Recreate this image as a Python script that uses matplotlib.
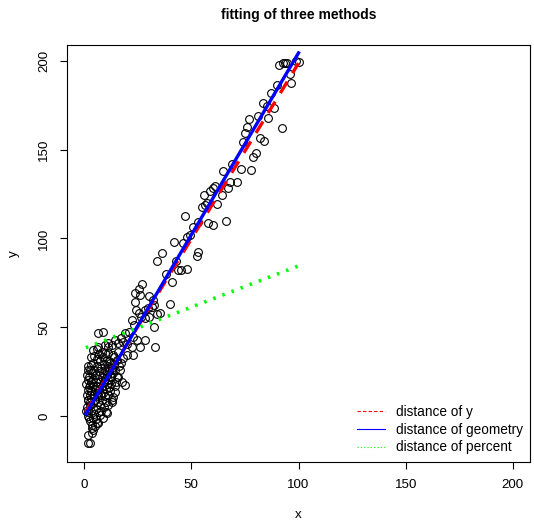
import matplotlib
matplotlib.use('Agg')
import matplotlib.pyplot as plt
from matplotlib.lines import Line2D
import numpy as np

plt.rcParams['font.family'] = ['Liberation Sans', 'DejaVu Sans']

# points, upper (sparse) part
x_upper = [90.7, 92.6, 93.5, 94.4, 100.0, 98.6, 95.8, 96.7, 89.8, 87.4,
           83.3, 85.1, 88.8, 86.0, 80.9, 76.7, 75.8, 92.1, 74.9, 74.0,
           81.9, 83.7, 78.6, 80.0, 77.7, 73.0, 68.8, 64.7, 71.2, 67.9,
           67.0, 60.9, 60.0, 64.2, 58.6, 55.8, 57.2, 61.9, 54.9, 56.3,
           47.0, 66.0, 57.7, 60.0, 53.0, 50.7, 49.3, 47.9, 46.0, 53.0,
           52.6, 41.9, 36.3, 34.0, 42.8, 38.1, 43.7, 45.1, 47.9, 40.9,
           27.0, 25.6, 23.7, 26.0, 40.0, 23.7, 24.2, 25.6, 28.4, 29.8,
           31.6, 32.6, 26.5, 28.4, 30.2, 35.3, 34.0, 22.3, 23.3, 32.6,
           20.9, 19.1, 18.1, 20.0, 22.3, 28.4, 26.0, 22.8, 20.0, 33.0,
           32.1, 30.2]
y_upper = [197.7, 198.9, 198.9, 198.9, 199.4, 200.0, 192.7, 187.6, 186.5, 182.0,
           176.3, 174.6, 173.5, 167.9, 169.0, 167.3, 162.8, 162.3, 159.4, 154.4,
           156.6, 154.9, 145.9, 148.2, 138.6, 139.2, 142.0, 138.0, 131.8, 131.8,
           128.5, 129.6, 128.5, 124.5, 126.8, 124.5, 120.0, 119.4, 117.7, 118.9,
           112.7, 109.9, 108.7, 107.6, 109.3, 106.5, 102.0, 100.8, 97.5, 92.4,
           90.1, 98.0, 91.8, 87.3, 87.3, 80.0, 82.3, 82.3, 82.8, 75.5,
           74.4, 71.5, 69.3, 68.2, 63.1, 64.2, 59.7, 58.0, 59.7, 60.8,
           61.4, 62.5, 55.8, 55.2, 55.8, 58.0, 57.5, 54.1, 51.3, 50.1,
           47.3, 46.8, 41.7, 40.6, 38.9, 42.8, 38.9, 34.4, 34.4, 38.9,
           65.4, 67.6]

# dense cluster near the origin
x_low = [15.8, 6.5, 9.8, 11.2, 4.2, 6.0, 6.5, 8.8, 11.2, 13.0,
         14.4, 17.2, 22.8, 24.7, 8.4, 9.8, 11.2, 18.1, 19.1, 15.8,
         17.7, 3.3, 1.9, 1.4, 1.9, 2.8, 1.9, 2.8, 1.9, 2.8,
         1.9, 4.2, 6.0, 4.2, 3.7, 1.9, 1.9, 2.8, 7.4, 8.8,
         10.7, 11.2, 13.0, 13.5, 14.4, 13.5, 15.3, 13.0, 16.3,
         1.0, 1.2, 1.5, 1.8, 2.0, 2.2, 2.4, 2.5, 2.7, 2.9,
         3.0, 3.1, 3.3, 3.4, 3.6, 3.8, 3.9, 4.0, 4.2, 4.3,
         4.5, 4.6, 4.8, 5.0, 5.1, 5.3, 5.4, 5.6, 5.7, 5.9,
         6.0, 6.2, 6.3, 6.5, 6.6, 6.8, 7.0, 7.1, 7.3, 7.4,
         7.6, 7.7, 7.9, 8.0, 8.2, 8.3, 8.5, 8.6, 8.8, 8.9,
         9.1, 9.2, 9.4, 9.5, 9.7, 9.8, 10.0, 10.2, 10.3, 10.5,
         10.7, 10.9, 11.0, 11.3, 11.5, 11.8, 12.0, 12.3, 12.6, 13.0,
         13.3, 13.7, 14.0, 14.5, 3.5, 5.2, 6.4, 2.3, 1.6, 0.8,
         4.4, 6.9, 5.8, 3.2, 12.2, 14.8, 16.5, 15.2, 17.0, 12.8,
         16.0, 10.4, 14.2, 11.7]
y_low = [41.1, 38.9, 40.0, 38.9, 37.2, 37.7, 46.8, 47.3, 41.1, 40.0,
         42.8, 43.9, 44.5, 42.8, 36.1, 35.5, 35.5, 32.7, 17.5, 22.0,
         19.2, 28.7, 25.9, 23.1, 20.3, 17.5, 14.6, 11.8, 9.0, 6.2,
         2.3, -1.1, -3.9, -7.9, -9.6, -10.7, -15.2, -15.2, 0.6, -1.1,
         1.7, 6.2, 7.9, 10.7, 13.5, 34.4, 31.5, 25.9, 28.2,
         18, 12, 5, 28, 0, 16, 22, 8, -3, 26,
         14, 19, 3, 10, 24, -5, 17, 30, 7, 21,
         12, 1, 26, 15, 9, 19, -2, 23, 4, 13,
         28, 17, 8, 21, 11, 2, 25, 15, 31, 6,
         19, 12, 27, 3, 22, 9, 16, 33, 13, 24,
         5, 19, 29, 11, 21, 26, 15, 8, 31, 18,
         23, 12, 28, 20, 16, 25, 30, 22, 18, 27,
         24, 29, 33, 26, -7, -6, -4, -1, 9, 3,
         34, 35, 32, 33, 14, 19, 26, 22, 30, 9,
         36, 2, 17, 31]

x = np.array(x_upper + x_low)
y = np.array(y_upper + y_low)

# fitted lines (intercept, slope)
fit_y = (0.7, 1.98)
fit_geometry = (-0.5, 2.05)
fit_percent = (38.0, 0.465)

fig = plt.figure(figsize=(5.34, 5.29), dpi=100)
ax = fig.add_axes([0.1255, 0.1267, 0.867, 0.7883])

ax.plot(x, y, 'o', ms=5.6, mfc='none', mec='black', mew=0.8)

xs = np.array([x.min(), x.max()])
ax.plot(xs, fit_y[0] + fit_y[1] * xs, color='red', lw=2.4,
        linestyle=(0, (4, 3)))
ax.plot(xs, fit_geometry[0] + fit_geometry[1] * xs, color='blue', lw=2.4)
ax.plot(xs, fit_percent[0] + fit_percent[1] * xs, color='#00ff00', lw=2.6,
        linestyle=(0, (0.7, 2.0)), dash_capstyle='butt')

ax.set_xlim(-8, 208)
ax.set_ylim(-26, 209)
ax.set_xticks([0, 50, 100, 150, 200])
ax.set_yticks([0, 50, 100, 150, 200])
ax.set_yticklabels(['0', '50', '100', '150', '200'], rotation=90, va='center')
ax.tick_params(length=5, width=0.8, labelsize=9.6, pad=7)
for s in ax.spines.values():
    s.set_linewidth(0.8)

ax.set_xlabel('x', fontsize=9.6, labelpad=13)
ax.set_ylabel('y', fontsize=9.6, labelpad=13)
ax.set_title('fitting of three methods', fontsize=10, fontweight='bold', pad=19)

handles = [
    Line2D([], [], color='red', lw=0.8, linestyle=(0, (3, 2))),
    Line2D([], [], color='blue', lw=0.8),
    Line2D([], [], color='#00ff00', lw=0.8, linestyle=(0, (1, 2))),
]
labels = ['distance of y', 'distance of geometry', 'distance of percent']
ax.legend(handles, labels, loc='lower right', bbox_to_anchor=(1.0, 0.0),
          frameon=False, fontsize=9.8, handlelength=2.0, handletextpad=0.8,
          labelspacing=0.28, borderaxespad=0.15)

plt.savefig('out.png', dpi=100)
plt.close()
